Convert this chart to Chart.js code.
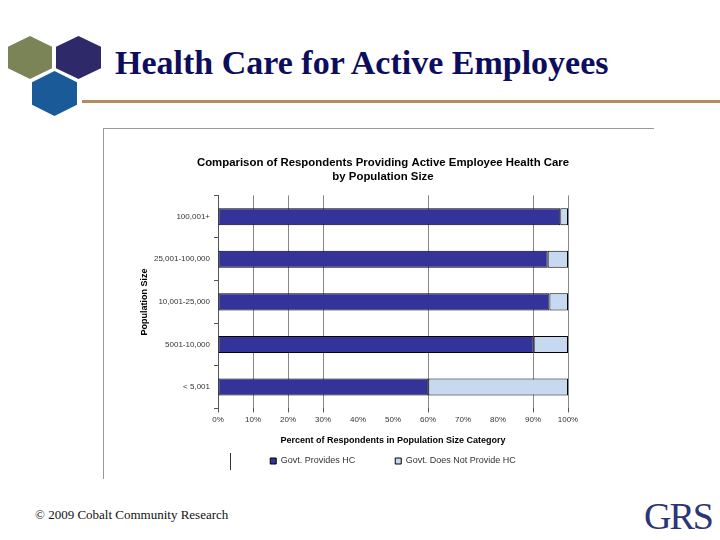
<!DOCTYPE html>
<html>
<head>
<meta charset="utf-8">
<script src="https://cdn.jsdelivr.net/npm/chart.js@4.4.0/dist/chart.umd.min.js"></script>
<style>
  body { margin: 0; width: 720px; height: 540px; background: #fff; position: relative; overflow: hidden; }
  .hex { position: absolute; clip-path: polygon(50% 0, 100% 25%, 100% 75%, 50% 100%, 0 75%, 0 25%); }
  #pageTitle { position: absolute; left: 115px; top: 44px; font: bold 34px "Liberation Serif", serif; color: #0d0d5e; white-space: nowrap; }
  #rule { position: absolute; left: 82px; top: 100px; width: 638px; height: 3px; background: #b38c5f; }
  #frame { position: absolute; left: 103px; top: 128px; width: 550px; height: 350px; border-top: 1px solid #999; border-left: 1px solid #999; }
  #chart { position: absolute; left: 103px; top: 128px; }
  #legendTick { position: absolute; left: 230px; top: 453px; width: 1px; height: 17px; background: #333; }
  #footer { position: absolute; left: 35px; top: 507px; font: 13px "Liberation Serif", serif; color: #111; }
  #grs { position: absolute; left: 644px; top: 494px; font: 38px "Liberation Serif", serif; color: #2b3577; letter-spacing: -2px; }
</style>
</head>
<body>
<div class="hex" style="left:8px;top:36px;width:44px;height:43px;background:#7a8457"></div>
<div class="hex" style="left:56px;top:36px;width:45px;height:43px;background:#2e2a69"></div>
<div class="hex" style="left:32px;top:71px;width:45px;height:45px;background:#1a5a98"></div>
<div id="pageTitle">Health Care for Active Employees</div>
<div id="rule"></div>
<div id="frame"></div>
<canvas id="chart" width="550" height="350"></canvas>
<div id="legendTick"></div>
<div id="footer">© 2009 Cobalt Community Research</div>
<div id="grs">GRS</div>

<script>
// Population size categories (top to bottom)
const categories = ['100,001+', '25,001-100,000', '10,001-25,000', '5001-10,000', '< 5,001'];

// Percent of respondents
const providesHC = [97.8, 94.2, 94.7, 90.2, 60.1];
const doesNotProvideHC = [2.2, 5.8, 5.3, 9.8, 39.9];

// x axis ticks that carry a visible gridline in the original
const gridTicks = [10, 20, 30, 60, 90, 100];

const axisFont = { family: 'Liberation Sans', size: 8 };
const titleFont = { family: 'Liberation Sans', size: 9, weight: 'bold' };

const ctx = document.getElementById('chart').getContext('2d');

new Chart(ctx, {
    type: 'bar',
    data: {
        labels: categories,
        datasets: [
            {
                label: 'Govt. Provides HC',
                data: providesHC,
                backgroundColor: '#333399',
                borderColor: '#000',
                borderWidth: 1,
                borderSkipped: false
            },
            {
                label: 'Govt. Does Not Provide HC',
                data: doesNotProvideHC,
                backgroundColor: '#c6d9f1',
                borderColor: '#000',
                borderWidth: 1,
                borderSkipped: false
            }
        ]
    },
    options: {
        indexAxis: 'y',
        responsive: false,
        animation: false,
        layout: { padding: { left: 36, right: 26, top: 0, bottom: 2.5 } },
        datasets: { bar: { categoryPercentage: 1, barPercentage: 0.4 } },
        scales: {
            x: {
                stacked: true,
                min: 0,
                max: 100,
                border: { display: false },
                grid: {
                    color: c => gridTicks.includes(c.tick.value) ? '#888' : 'rgba(0,0,0,0)',
                    tickColor: c => (c.tick.value === 0 || gridTicks.includes(c.tick.value)) ? '#555' : 'rgba(0,0,0,0)',
                    tickLength: 4
                },
                ticks: {
                    stepSize: 10,
                    autoSkip: false,
                    maxRotation: 0,
                    padding: 3,
                    color: '#333',
                    font: axisFont,
                    callback: v => v + '%'
                }
            },
            y: {
                stacked: true,
                border: { display: true, color: '#555' },
                grid: { drawOnChartArea: false, color: '#555', tickLength: 4 },
                ticks: { padding: 4, color: '#333', font: axisFont },
                title: {
                    display: true,
                    text: 'Population Size',
                    color: '#000',
                    font: titleFont,
                    padding: 0
                },
                afterFit: s => { s.width = 79; }
            },
            y2: {
                type: 'category',
                position: 'right',
                border: { display: false },
                grid: { display: false },
                ticks: { display: false },
                afterFit: s => { s.width = 59; }
            }
        },
        plugins: {
            title: {
                display: true,
                text: ['Comparison of Respondents Providing Active Employee Health Care', 'by Population Size'],
                color: '#000',
                font: { family: 'Liberation Sans', size: 11.4, weight: 'bold' },
                lineHeight: 1.2,
                padding: { top: 28, bottom: 12 }
            },
            legend: {
                position: 'bottom',
                fullSize: false,
                title: {
                    // x axis caption sits above the legend items
                    display: true,
                    text: 'Percent of Respondents in Population Size Category',
                    color: '#000',
                    font: titleFont,
                    padding: { top: 8.5, bottom: -30.8 }
                },
                labels: {
                    boxWidth: 6,
                    boxHeight: 6,
                    padding: 40,
                    color: '#333',
                    font: { family: 'Liberation Sans', size: 9 }
                }
            },
            tooltip: { enabled: false }
        }
    }
});
</script>
</body>
</html>
